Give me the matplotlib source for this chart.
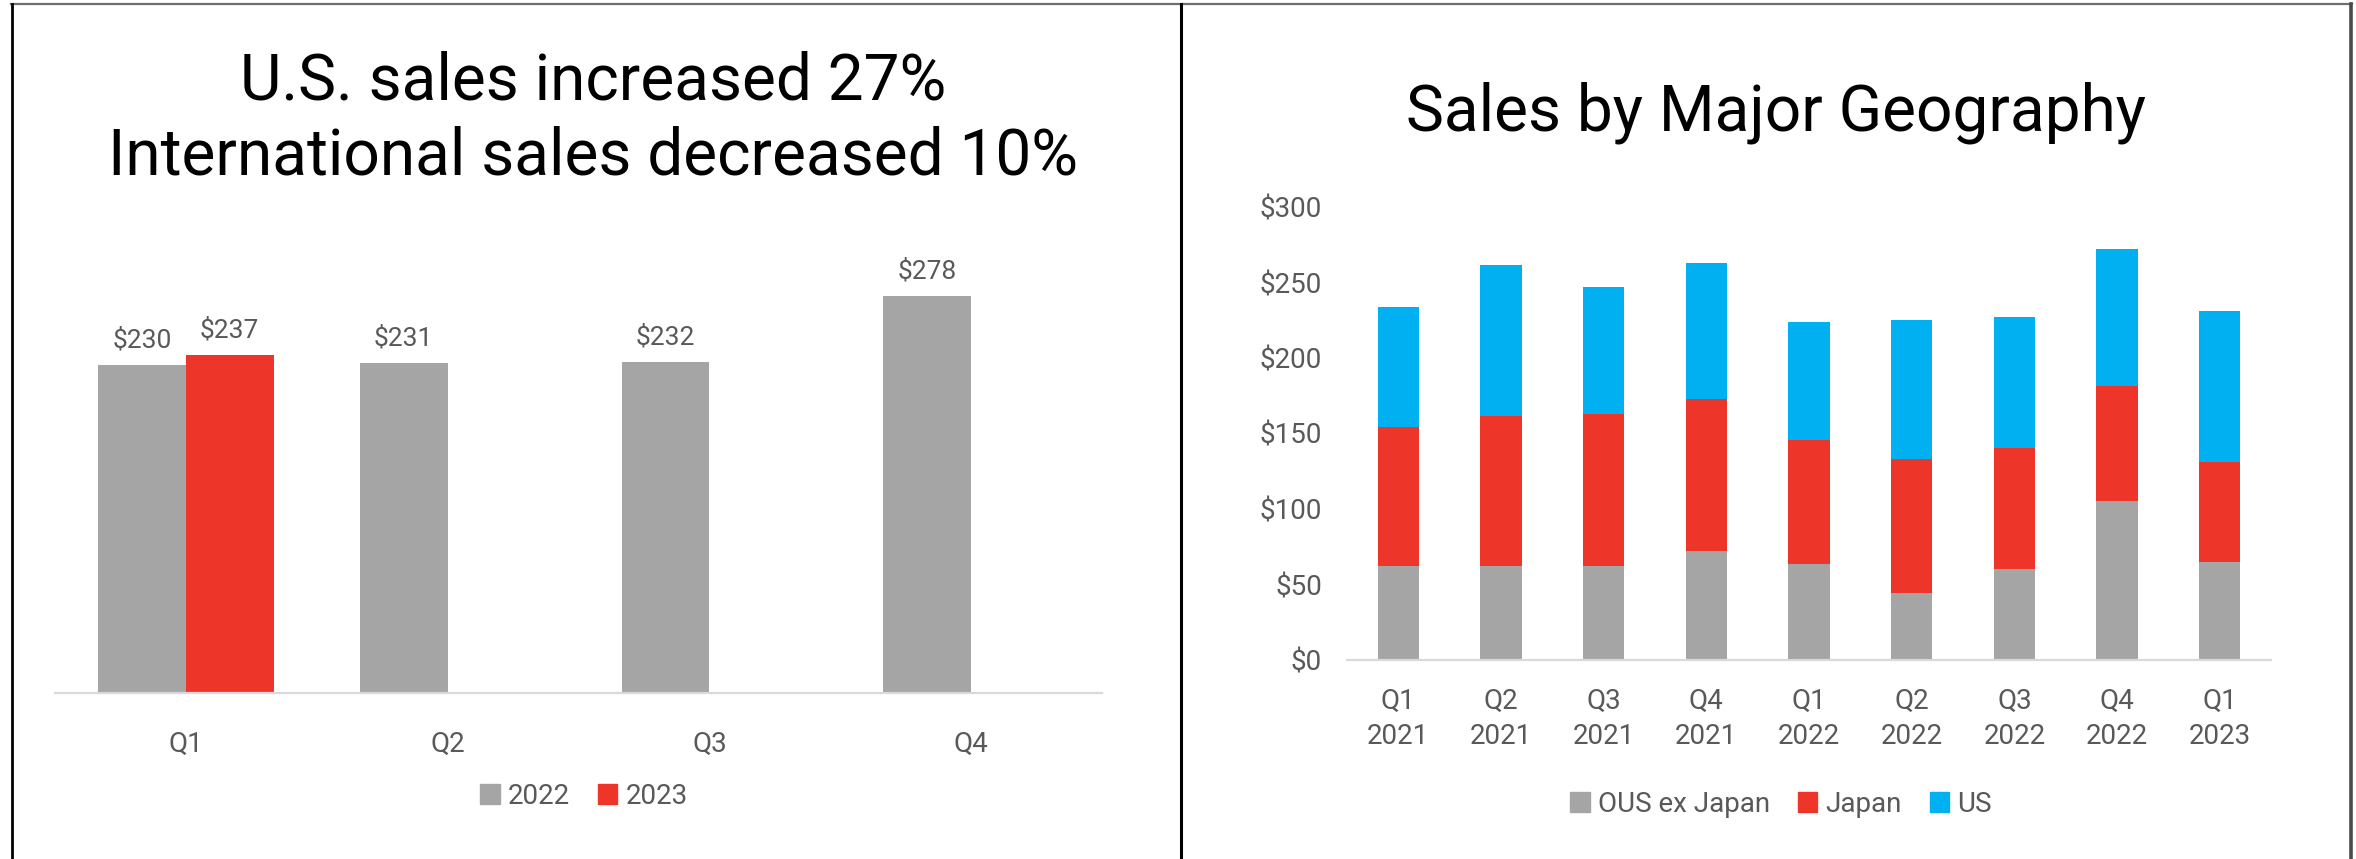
import matplotlib
matplotlib.use("Agg")
import matplotlib.pyplot as plt
from matplotlib.patches import Patch
from matplotlib.lines import Line2D
from matplotlib import font_manager
import numpy as np

# ---------------- data ----------------
left_categories = ["Q1", "Q2", "Q3", "Q4"]
sales_2022 = [230, 231, 232, 278]
sales_2023 = [237, np.nan, np.nan, np.nan]
left_title = "U.S. sales increased 27%\nInternational sales decreased 10%"

right_categories = ["Q1\n2021", "Q2\n2021", "Q3\n2021", "Q4\n2021",
                    "Q1\n2022", "Q2\n2022", "Q3\n2022", "Q4\n2022", "Q1\n2023"]
ous_ex_japan = [62, 62, 62.4, 72.4, 63.3, 44.1, 60.4, 105, 64.6]
japan = [92.4, 99.5, 100.4, 100.3, 82.7, 89.1, 80.1, 76.3, 66.7]
us = [79.4, 100.1, 84.1, 90.5, 78.1, 91.8, 86.7, 91.1, 100.1]
right_title = "Sales by Major Geography"
right_yticks = [0, 50, 100, 150, 200, 250, 300]

GRAY = "#A5A5A5"
RED = "#EE3529"
BLUE = "#00B0F0"
TXT = "#595959"
AXL = "#D9D9D9"

names = {f.name for f in font_manager.fontManager.ttflist}
FONT = "Roboto" if "Roboto" in names else "DejaVu Sans"
plt.rcParams["font.family"] = [FONT, "DejaVu Sans"]

W, H = 2356, 859
fig = plt.figure(figsize=(W / 100, H / 100), dpi=100)

def px_axes(x0, x1, ybot, ytop):
    return fig.add_axes([x0 / W, 1 - ybot / H, (x1 - x0) / W, (ybot - ytop) / H])

# ---------------- left chart ----------------
axL = px_axes(55, 1102, 693, 265)
x = np.arange(len(left_categories))
bw = 0.335
b1 = axL.bar(x - bw / 2, sales_2022, bw, color=GRAY, label="2022")
b2 = axL.bar(x + bw / 2, sales_2023, bw, color=RED, label="2023")
axL.bar_label(b1, labels=[f"${v:.0f}" for v in sales_2022], padding=9,
              fontsize=19, color=TXT)
axL.bar_label(b2, labels=[("" if np.isnan(v) else f"${v:.0f}") for v in sales_2023],
              padding=9, fontsize=19, color=TXT)
axL.set_xlim(-0.5, len(left_categories) - 0.5)
axL.set_ylim(0, 300)
axL.set_xticks(x)
axL.set_xticklabels(left_categories, fontsize=20, color=TXT)
axL.set_yticks([])
for s in ["left", "right", "top"]:
    axL.spines[s].set_visible(False)
axL.spines["bottom"].set_color(AXL)
axL.spines["bottom"].set_linewidth(1.6)
axL.tick_params(axis="x", length=0, pad=27)

fig.text(593 / W, 1 - 119 / H, left_title, ha="center", va="center",
         fontsize=46, fontweight="normal", color="black", linespacing=1.25)

fig.legend(handles=[Patch(color=GRAY, label="2022"), Patch(color=RED, label="2023")],
           loc="center", bbox_to_anchor=(584 / W, 1 - 796 / H), ncol=2,
           frameon=False, fontsize=20, labelcolor=TXT,
           handlelength=0.7, handleheight=0.7, handletextpad=0.3, columnspacing=1.0)

# ---------------- right chart ----------------
axR = px_axes(1347, 2271, 660, 207)
xr = np.arange(len(right_categories))
rw = 0.40
bottom2 = np.array(ous_ex_japan) + np.array(japan)
axR.bar(xr, ous_ex_japan, rw, color=GRAY, label="OUS ex Japan")
axR.bar(xr, japan, rw, bottom=ous_ex_japan, color=RED, label="Japan")
axR.bar(xr, us, rw, bottom=bottom2, color=BLUE, label="US")
axR.set_xlim(-0.5, len(right_categories) - 0.5)
axR.set_ylim(0, 300)
axR.set_yticks(right_yticks)
axR.set_yticklabels([f"${v}" for v in right_yticks], fontsize=20, color=TXT)
axR.set_xticks(xr)
axR.set_xticklabels(right_categories, fontsize=20, color=TXT, linespacing=1.4)
for s in ["left", "right", "top"]:
    axR.spines[s].set_visible(False)
axR.spines["bottom"].set_color(AXL)
axR.spines["bottom"].set_linewidth(1.6)
axR.tick_params(axis="x", length=0, pad=20)
axR.tick_params(axis="y", length=0, pad=18)

fig.text(1776 / W, 1 - 113 / H, right_title, ha="center", va="center",
         fontsize=46, fontweight="normal", color="black")

fig.legend(handles=[Patch(color=GRAY, label="OUS ex Japan"),
                    Patch(color=RED, label="Japan"),
                    Patch(color=BLUE, label="US")],
           loc="center", bbox_to_anchor=(1781 / W, 1 - 804 / H), ncol=3,
           frameon=False, fontsize=20, labelcolor=TXT,
           handlelength=0.7, handleheight=0.7, handletextpad=0.3, columnspacing=1.0)

# ---------------- panel borders ----------------
def vline(xp, color, lw):
    fig.add_artist(Line2D([xp / W, xp / W], [0, 1 - 4 / H], color=color, lw=lw,
                          transform=fig.transFigure))

fig.add_artist(Line2D([11 / W, 2352 / W], [1 - 4 / H, 1 - 4 / H], color="#6E6E6E",
                      lw=1.6, transform=fig.transFigure))
vline(11.5, "black", 2.0)
vline(1181, "black", 2.2)
vline(2351, "#4A4A4A", 2.6)

fig.savefig("out.png", dpi=100, facecolor="white")
